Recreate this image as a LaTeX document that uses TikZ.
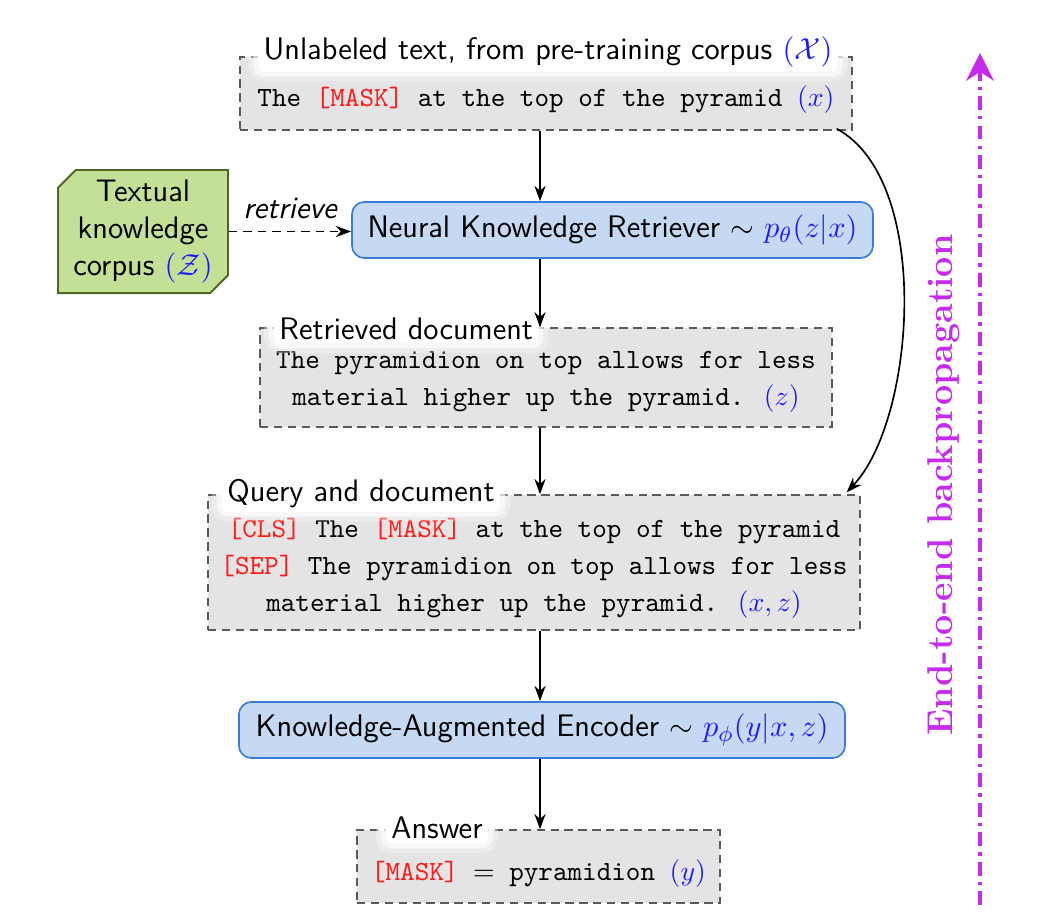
\documentclass[tikz,border=0pt]{standalone}
\usetikzlibrary{arrows.meta,calc,shapes.misc}

\definecolor{boxgray}{RGB}{228,228,228}
\definecolor{boxedge}{RGB}{90,90,90}
\definecolor{modfill}{RGB}{198,217,243}
\definecolor{modedge}{RGB}{58,125,216}
\definecolor{corpfill}{RGB}{196,223,150}
\definecolor{corpedge}{RGB}{79,102,36}
\definecolor{varblue}{RGB}{25,25,255}
\definecolor{tokred}{RGB}{255,25,25}
\definecolor{backprop}{RGB}{196,43,239}

\newcommand\redtok[1]{\textcolor{tokred}{#1}}
\newcommand\bluevar[1]{\textcolor{varblue}{$#1$}}
\newcommand\labelfont{\fontsize{11.2}{13.2}\selectfont\sffamily}

\begin{document}
\begin{tikzpicture}[
  x=0.36pt, y=-0.36pt,
  >={Stealth[length=5.5pt,width=4pt]},
  frame/.style={draw=boxedge, dash pattern=on 3pt off 2pt, fill=boxgray,
    line width=0.5pt, inner sep=0pt},
  module/.style={draw=modedge, fill=modfill, rounded corners=4.5pt,
    line width=0.6pt, inner sep=0pt, font=\labelfont},
  title/.style={fill=white, rounded corners=2pt, inner xsep=2pt, inner ysep=1.5pt,
    font=\labelfont,
    preaction={draw=white, line width=7pt, opacity=0.3},
    preaction={draw=white, line width=3.5pt, opacity=0.6}},
  content/.style={font=\ttfamily, align=center},
  flow/.style={->, line width=0.6pt},
]
\useasboundingbox (0,0) rectangle (1062,922);

% reference column for the vertical flow
\coordinate (spine) at (540,0);

% unlabeled input text
\node[frame, minimum width=220.3pt, minimum height=26.3pt] (top) at (546,93.5) {};
\node[content] (topc) at ($(top)+(0,6)$)
  {The \redtok{[MASK]} at the top of the pyramid \bluevar{(x)}};
\node[title] (topt) at ($(top.north)+(2,-4)$)
  {Unlabeled text, from pre-training corpus \bluevar{(\mathcal{X})}};

% retriever
\node[module, minimum width=187.6pt, minimum height=20.2pt] (ret) at (612.5,230)
  {Neural Knowledge Retriever $\sim$ \bluevar{p_\theta(z|x)}};

% knowledge corpus
\node[chamfered rectangle, chamfered rectangle corners={north west,south east},
  chamfered rectangle xsep=3.2pt, chamfered rectangle ysep=3.2pt,
  draw=corpedge, fill=corpfill, line width=0.7pt, inner sep=0pt,
  minimum width=61.2pt, minimum height=44.3pt, font=\labelfont, align=center] (corp) at (143,231.5)
  {Textual\\knowledge\\corpus \bluevar{(\mathcal{Z})}};

% retrieved document
\node[frame, minimum width=205.9pt, minimum height=35.6pt] (doc) at (546,377.5) {};
\node[content] (docc) at ($(doc)+(0,4)$)
  {The pyramidion on top allows for less\\[1.3pt]material higher up the pyramid. \bluevar{(z)}};
\node[title, anchor=west] (doct) at ($(doc.north west)+(14,1)$) {Retrieved document};

% query and document
\node[frame, minimum width=234.7pt, minimum height=48.6pt] (qd) at (534,562.5) {};
\node[content] (qdc) at ($(qd)+(0,6)$)
  {\redtok{[CLS]} The \redtok{[MASK]} at the top of the pyramid\\[1.3pt]
   \redtok{[SEP]} The pyramidion on top allows for less\\[1.3pt]
   material higher up the pyramid. \bluevar{(x,z)}};
\node[title, anchor=west] (qdt) at ($(qd.north west)+(14,-1)$) {Query and document};

% encoder
\node[module, minimum width=218.2pt, minimum height=20.2pt] (enc) at (542,730)
  {Knowledge-Augmented Encoder $\sim$ \bluevar{p_\phi(y|x,z)}};

% answer
\node[frame, minimum width=130.7pt, minimum height=26.3pt] (ans) at (538.5,866.5) {};
\node[content] (ansc) at ($(ans)+(0,7)$)
  {\redtok{[MASK]} $=$ pyramidion \bluevar{(y)}};
\node[title, anchor=west] (anst) at ($(ans.north west)+(29,-1)$) {Answer};

% main flow
\draw[flow] (top.south -| spine) -- (ret.north -| spine);
\draw[flow] (ret.south -| spine) -- (doc.north -| spine);
\draw[flow] (doc.south -| spine) -- (qd.north -| spine);
\draw[flow] (qd.south -| spine) -- (enc.north -| spine);
\draw[flow] (enc.south -| spine) -- (ans.north -| spine);

% query passed straight to the encoder input
\draw[flow] ($(top.south east)+(-16,-2)$)
  .. controls ($(top.south east)+(80,50)$) and ($(qd.north east)+(55,-75)$)
  .. ($(qd.north east)+(-14,-2)$);

% retrieval from the corpus
\draw[->, line width=0.6pt, dash pattern=on 3pt off 2.2pt] (corp.east) -- (corp.east -| ret.west)
  node[midway, above=1pt, font=\labelfont\itshape] {retrieve};

% end-to-end training signal
\coordinate (bpfoot) at (980,905);
\coordinate (bphead) at (980,53);
\draw[backprop, line width=1.4pt, dash pattern=on 5pt off 2.2pt on 1.2pt off 2.2pt,
  -{Stealth[length=10pt,width=10pt]}] (bpfoot) -- (bphead);
\node[rotate=90, font=\fontsize{12.9}{15}\selectfont\bfseries, text=backprop] (bp) at (944,485)
  {End-to-end backpropagation};
\end{tikzpicture}
\end{document}
